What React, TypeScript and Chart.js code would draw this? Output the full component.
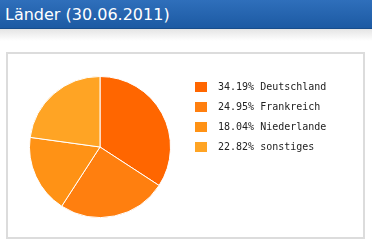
import React, { useEffect, useRef } from "react";
import { Chart, registerables } from "chart.js";

Chart.register(...registerables);

const title = "Länder (30.06.2011)";
const categories = ["Deutschland", "Frankreich", "Niederlande", "sonstiges"];
const shares = [34.19, 24.95, 18.04, 22.82];
const colors = ["#FF6600", "#FF7F0F", "#FF9215", "#FFA424"];

const legendPlugin = {
  id: "sideLegend",
  afterDraw(chart: any) {
    const ctx = chart.ctx;
    ctx.save();
    ctx.font = "10px 'DejaVu Sans Mono', monospace";
    ctx.textBaseline = "middle";
    categories.forEach((c, i) => {
      const y = 33 + i * 20;
      ctx.fillStyle = colors[i];
      ctx.fillRect(187, y - 5, 12, 10);
      ctx.fillStyle = "#222";
      ctx.fillText(shares[i].toFixed(2) + "% " + c, 210, y + 0.5);
    });
    ctx.restore();
  },
};

export default function App() {
  const ref = useRef<HTMLCanvasElement>(null);
  useEffect(() => {
    const chart = new Chart(ref.current!, {
      type: "pie",
      data: {
        labels: categories,
        datasets: [
          {
            data: shares,
            backgroundColor: colors,
            borderColor: "#ffffff",
            borderWidth: 1,
          },
        ],
      },
      options: {
        animation: false,
        responsive: false,
        layout: { padding: { left: 21, top: 22, right: 192, bottom: 19 } },
        plugins: { legend: { display: false }, tooltip: { enabled: false } },
      },
      plugins: [legendPlugin],
    });
    return () => chart.destroy();
  }, []);

  return (
    <div
      style={{
        position: "absolute",
        left: 0,
        top: 0,
        width: 372,
        height: 243,
        background: "#fff",
        fontFamily: "Verdana, 'DejaVu Sans', sans-serif",
        overflow: "hidden",
      }}
    >
      <div
        style={{
          height: 29,
          background: "linear-gradient(#2f6fbb, #1c5aa3)",
          borderBottom: "1px solid #174d8c",
          color: "#fff",
          fontSize: 16,
          lineHeight: "29px",
          paddingLeft: 5,
          boxSizing: "border-box",
        }}
      >
        {title}
      </div>
      <div style={{ height: 12, background: "linear-gradient(#e4e4e4, #fff)" }} />
      <div
        style={{
          position: "absolute",
          left: 6,
          top: 52,
          width: 355,
          height: 183,
          border: "2px solid #dcdcdc",
          background: "#fff",
        }}
      >
        <canvas ref={ref} width={355} height={183} style={{ display: "block" }} />
      </div>
    </div>
  );
}
